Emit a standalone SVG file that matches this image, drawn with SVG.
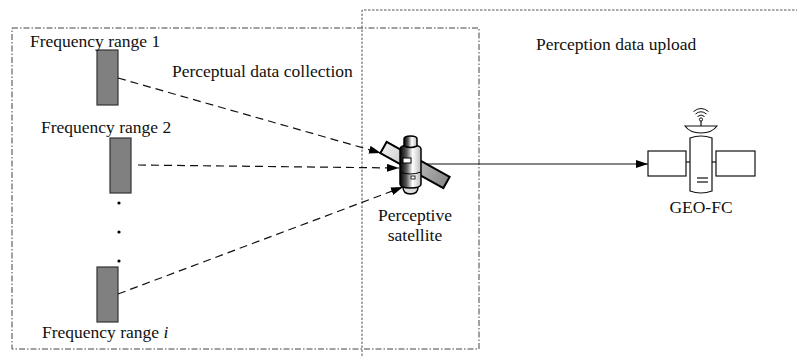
<svg xmlns="http://www.w3.org/2000/svg" width="797" height="356" viewBox="0 0 797 356">
<style>
  text { font-family: "Liberation Serif", "Times New Roman", serif; font-size: 17.5px; fill: #111; }
  .freq { fill: #808080; stroke: #333; stroke-width: 1.2; }
  .dash { fill: none; stroke: #111; stroke-width: 1.2; stroke-dasharray: 8 5; }
  .solid { fill: none; stroke: #111; stroke-width: 1.2; }
  .ol { stroke: #111; stroke-width: 1.2; fill: #fff; }
</style>
<defs>
  <marker id="ah" viewBox="0 0 12 8" refX="12" refY="4" markerWidth="12" markerHeight="8" markerUnits="userSpaceOnUse" orient="auto">
    <path d="M0,0 L12,4 L0,8 z" fill="#000"/>
  </marker>
  <linearGradient id="panelG" x1="0" y1="0" x2="1" y2="0">
    <stop offset="0" stop-color="#eee"/>
    <stop offset="0.5" stop-color="#bbb"/>
    <stop offset="1" stop-color="#888"/>
  </linearGradient>
  <linearGradient id="bodyG" x1="0" y1="0" x2="1" y2="0">
    <stop offset="0" stop-color="#000"/>
    <stop offset="0.3" stop-color="#555"/>
    <stop offset="0.6" stop-color="#fff"/>
    <stop offset="1" stop-color="#bbb"/>
  </linearGradient>
</defs>

<g id="regions">
  <rect x="12" y="28" width="467" height="321" fill="none" stroke="#444" stroke-width="1" stroke-dasharray="6 2 1.5 2"/>
  <path d="M362,356 L362,10 L797,10" fill="none" stroke="#555" stroke-width="1" stroke-dasharray="2.5 1.5"/>
  <text x="172" y="77">Perceptual data collection</text>
  <text x="536" y="50">Perception data upload</text>
</g>

<g id="freq1">
  <rect class="freq" x="97" y="50" width="21" height="55"/>
  <text x="30" y="47">Frequency range 1</text>
</g>
<g id="freq2">
  <rect class="freq" x="110" y="138" width="21" height="55"/>
  <text x="41" y="133">Frequency range 2</text>
</g>
<g id="ellipsis">
  <circle cx="119" cy="203" r="1.6" fill="#000"/>
  <circle cx="119" cy="232" r="1.6" fill="#000"/>
  <circle cx="119" cy="261" r="1.6" fill="#000"/>
</g>
<g id="freqi">
  <rect class="freq" x="97" y="267" width="21" height="55"/>
  <text x="42" y="338">Frequency range <tspan font-style="italic">i</tspan></text>
</g>

<g id="connectors">
  <line class="dash" x1="118" y1="78" x2="381" y2="153" marker-end="url(#ah)"/>
  <line class="dash" x1="138" y1="165" x2="399" y2="168" marker-end="url(#ah)"/>
  <line class="dash" x1="118" y1="294" x2="403" y2="187" marker-end="url(#ah)"/>
  <line class="solid" x1="420" y1="164" x2="648" y2="164" marker-end="url(#ah)"/>
</g>

<g id="perceptive-satellite">
  <rect x="379" y="158.5" width="72" height="13" fill="url(#panelG)" stroke="#000" stroke-width="2" transform="rotate(29 415 165)"/>
  <path d="M403,187 Q403,194 410.5,194 Q418,194 418,187 z" fill="#ddd" stroke="#000" stroke-width="1.5"/>
  <path d="M400,149 Q400,145 410.5,145 Q421,145 421,149 L421,184 Q421,188 410.5,188 Q400,188 400,184 z" fill="url(#bodyG)" stroke="#000" stroke-width="1.5"/>
  <path d="M400,172 Q410.5,176 421,172" fill="none" stroke="#000" stroke-width="1"/>
  <path d="M404,139 Q404,136 410.5,136 Q417,136 417,139 L417,146 Q410.5,149 404,146 z" fill="url(#bodyG)" stroke="#000" stroke-width="1.5"/>
  <rect x="403" y="158" width="8" height="5" fill="#fff" stroke="#000" stroke-width="1"/>
  <rect x="411" y="176" width="4" height="3" fill="#fff" stroke="#000" stroke-width="0.8"/>
  <text x="415" y="221" text-anchor="middle">Perceptive</text>
  <text x="415" y="241" text-anchor="middle">satellite</text>
</g>

<g id="geo-fc">
  <line class="solid" x1="686" y1="162" x2="690" y2="162"/>
  <line class="solid" x1="712" y1="162" x2="716" y2="162"/>
  <rect class="ol" x="648" y="151" width="38" height="25"/>
  <rect class="ol" x="716" y="151" width="39" height="25"/>
  <path class="ol" d="M690,138 Q701,134 712,138 L712,191 Q701,195 690,191 z"/>
  <line class="solid" x1="697" y1="178" x2="708" y2="178"/>
  <line class="solid" x1="697" y1="182" x2="708" y2="182"/>
  <path class="ol" d="M685,126 L717,126 Q712,133 701,133 Q690,133 685,126 z"/>
  <line class="solid" x1="701" y1="121" x2="701" y2="126"/>
  <circle cx="701" cy="119.5" r="1.6" fill="none" stroke="#111" stroke-width="1"/>
  <path d="M697.5,116.5 Q701,113.5 704.5,116.5" fill="none" stroke="#111" stroke-width="1"/>
  <path d="M695.5,114 Q701,109.5 706.5,114" fill="none" stroke="#111" stroke-width="1"/>
  <path d="M693.5,111.5 Q701,105.5 708.5,111.5" fill="none" stroke="#111" stroke-width="1"/>
  <text x="701" y="213" text-anchor="middle">GEO-FC</text>
</g>
</svg>
